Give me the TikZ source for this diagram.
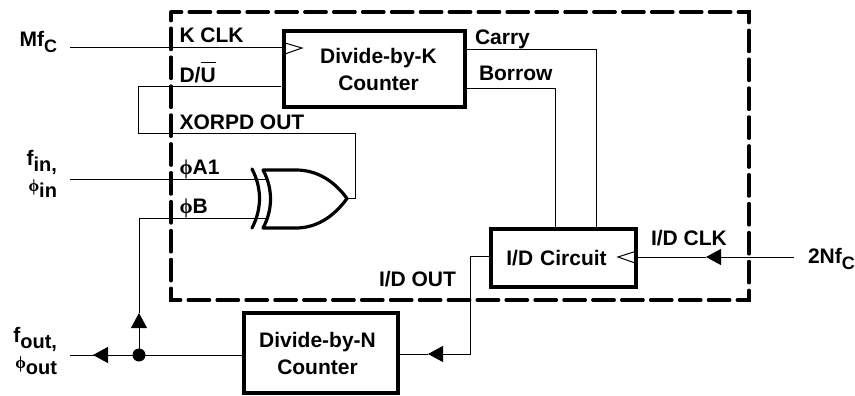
\documentclass[tikz,border=0pt]{standalone}
\usepackage{fontspec}
\setmainfont{Liberation Sans}[BoldFont={Liberation Sans Bold}]
\newfontfamily\phifont{Liberation Serif}
\usetikzlibrary{arrows.meta}
\newcommand{\sbs}[1]{\raisebox{-6pt}{\fontsize{18}{20}\selectfont #1}}
\newcommand{\sbl}[1]{\raisebox{-6pt}{\fontsize{20}{22}\selectfont #1}}
\newcommand{\phs}{{\phifont\fontsize{21}{22}\selectfont\char"03D5}}
\newcommand{\phsm}{{\phifont\fontsize{17}{20}\selectfont\char"03D5}}
\tikzset{
  blockbox/.style={draw,line width=3.2pt,inner sep=0pt,outer sep=0pt,align=center,anchor=north west,font=\fontsize{21}{27}\selectfont\bfseries,line join=miter},
  lab/.style={inner sep=0pt,outer sep=0pt,anchor=base west,font=\fontsize{21}{24}\selectfont\bfseries},
  labr/.style={lab,anchor=base east},
  wire/.style={line width=1pt,line join=miter},
  tipwire/.style={wire,-{Triangle[length=15pt 0 0,width=16pt 0 0]}},
  heavy/.style={line width=3.2pt,line join=round,line cap=round},
  sysbox/.style={line width=3.2pt,line cap=round,line join=miter,dash pattern=on 21.5pt off 7.4pt,dash phase=10.75pt}
}
\begin{document}
\begin{tikzpicture}[x=1pt,y=-1pt]
\useasboundingbox (0,0) rectangle (855,396);
\fill[white] (0,0) rectangle (855,396);
% dashed enclosure
\draw[sysbox] (171,12) -- (749,12) -- (749,300) -- (171,300) -- cycle;
% blocks
\node[blockbox,minimum width=181pt,minimum height=76pt] (kc) at (284,31) {\hspace*{8pt}Divide-by-K\\\hspace*{8pt}Counter};
\node[blockbox,minimum width=145pt,minimum height=58pt,text width=145pt] (idc) at (491,229) {\hspace*{-14pt}I/D Circuit};
\node[blockbox,minimum width=154pt,minimum height=80pt] (nc) at (244,313) {\hspace*{-7pt}Divide-by-N\\\hspace*{-7pt}Counter};
% XOR gate
\coordinate (gA) at (266,179);
\coordinate (gB) at (266,218);
\coordinate (gOut) at (347,198.5);
\draw[heavy,fill=white] (263,170) -- (296,170) .. controls (318,170) and (335,182) .. (gOut)
  .. controls (335,215) and (318,228) .. (296,228) -- (263,228)
  .. controls (273,210) and (273,188) .. cycle;
\draw[heavy] (252,169) .. controls (262,188) and (262,209) .. (252,228);
% free ends and bends
\coordinate (inM) at (70,48);
\coordinate (inF) at (70,179);
\coordinate (outF) at (70,355);
\coordinate (in2N) at (794,257);
\coordinate (junc) at (139,355);
\coordinate (upTip) at (139,313);
\coordinate (leftTip) at (93,355);
\coordinate (ncTip) at (428,354);
\coordinate (clkTip) at (706,257);
% clock triangles
\coordinate (kclk) at (284,48);
\coordinate (iclk) at (636,257);
\draw[wire] (285,43) -- (302,48) -- (285,54);
\draw[wire] (635,251.5) -- (618,257) -- (635,263);
% connectors
\draw[wire] (inM) -- (kclk);
\draw[wire] (281,87) -- (138,87) -- (138,133) -- (355,133) |- (gOut);
\draw[wire] (inF) -- (gA);
\draw[wire] (gB) -| (upTip);
\draw[tipwire] (junc) -- (upTip);
\draw[wire] (nc.west |- junc) -- (outF);
\draw[tipwire] (junc) -- (leftTip);
\fill (junc) circle (6.5);
\draw[wire] (465,50) -| (596,229);
\draw[wire] (465,89) -| (555,229);
\draw[tipwire] (470,256) -- (470,354) -- (ncTip);
\draw[wire] (ncTip) -- (nc.east |- ncTip);
\draw[wire] (470,256) -- (491,256);
\draw[wire] (iclk) -- (clkTip);
\draw[tipwire] (in2N) -- (clkTip);
% labels
\node[lab] (l1) at (179.5,43) {K CLK};
\node[lab] (l2) at (179.5,83) {D/\makebox[0pt][l]{\hspace{0.5pt}\rule[19.5pt]{15pt}{1.6pt}}U};
\node[lab] (l3) at (179.5,129) {XORPD OUT};
\node[lab] (l4) at (179.5,175) {\phs A1};
\node[lab] (l5) at (179.5,213) {\phs B};
\node[lab] (l6) at (475,45) {Carry};
\node[lab] (l7) at (479,81) {Borrow};
\node[lab] (l8) at (651,245) {I/D CLK};
\node[labr] (l9) at (456,286) {I/D OUT};
\node[lab] (l10) at (808,263) {2Nf\sbs{C}};
\node[labr] (l11) at (57,47) {Mf\sbs{C}};
\node[labr] (l12) at (57,165) {f\sbl{in,}};
\node[labr] (l13) at (57,191) {\phsm\sbl{in}};
\node[labr] (l14) at (57,342) {f\sbl{out,}};
\node[labr] (l15) at (57,368) {\phsm\sbl{out}};
\end{tikzpicture}
\end{document}
